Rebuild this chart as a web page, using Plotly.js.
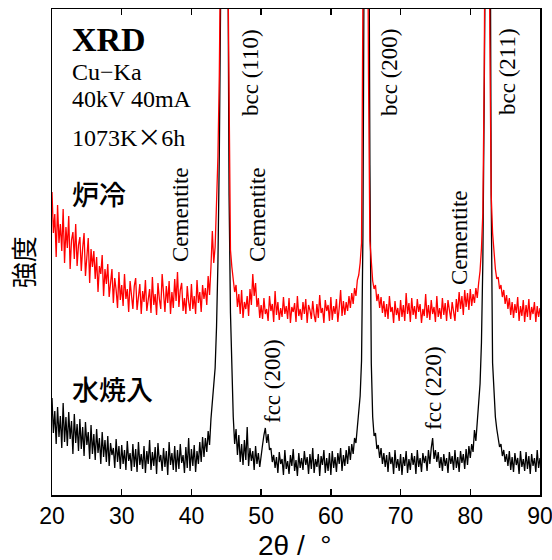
<!DOCTYPE html>
<html>
<head>
<meta charset="utf-8">
<script src="https://cdn.plot.ly/plotly-3.0.1.min.js"></script>
<style>html,body{margin:0;padding:0;background:#fff;}</style>
</head>
<body>
<div id="chart" style="width:552px;height:560px;"></div>
<script>
// 2θ sampling grid: 20.0 .. 90.0 in 0.2° steps (measurement positions)
const thetaStart = 20.0, thetaStep = 0.2, thetaCount = 351;
const twoTheta = Array.from({length: thetaCount}, (_, i) => +(thetaStart + thetaStep * i).toFixed(1));

// 炉冷 (furnace cooled) intensity, arbitrary units
const furnaceCooled = [
  303,262,281,238,290,252,271,244,286,232,
  268,247,279,226,255,263,236,271,229,250,
  258,224,247,262,219,241,257,212,246,228,
  244,216,238,203,229,221,240,199,226,211,
  231,198,214,226,192,217,205,187,223,195,
  210,189,221,196,206,183,214,200,186,209,
  217,185,199,211,181,204,193,215,184,197,
  206,182,218,190,201,180,212,196,186,221,
  199,183,209,192,214,181,203,187,216,194,
  223,188,205,212,184,197,181,209,193,184,
  211,186,199,181,215,192,203,183,210,196,
  207,190,219,200,228,264,232,248,292,338,
  420,560,800,1000,1000,800,560,380,245,228,
  212,203,210,188,201,181,205,177,193,186,
  199,179,206,190,221,199,212,188,197,177,
  190,176,197,181,186,174,199,184,191,173,
  204,180,193,175,187,178,198,181,189,176,
  197,172,188,183,192,173,199,179,186,175,
  193,181,196,172,190,185,176,194,180,173,
  191,177,200,182,187,172,195,184,190,174,
  198,175,189,181,196,173,187,205,179,194,
  180,193,184,199,187,202,191,207,199,215,
  220,232,252,420,800,1000,700,420,254,234,
  214,206,210,194,201,187,198,182,194,178,
  191,176,199,183,188,172,194,180,187,174,
  195,178,190,174,202,181,192,173,197,180,
  189,176,196,183,191,172,186,179,201,177,
  190,175,195,181,188,173,199,178,187,176,
  197,180,192,174,195,185,176,193,181,174,
  196,183,203,186,199,180,205,188,202,185,
  206,189,201,192,207,197,212,224,246,282,
  420,800,1000,800,460,300,262,240,226,216,
  218,206,210,198,205,191,200,186,197,180,
  193,177,191,182,198,174,189,179,195,173,
  190,178,196,175,188,181,193,173,189,178,
  187
];

// 水焼入 (water quenched) intensity, arbitrary units
const waterQuenched = [
  97,62,84,51,88,58,79,47,92,53,
  78,49,83,56,74,41,81,52,71,44,
  76,46,68,39,73,50,63,36,70,41,
  61,35,66,42,57,31,63,38,55,33,
  59,29,52,40,47,27,56,33,49,26,
  50,31,45,25,54,34,42,24,51,28,
  46,23,53,30,41,26,49,22,44,31,
  55,25,43,29,48,21,52,33,40,24,
  47,28,44,20,53,30,42,25,49,23,
  45,26,51,32,40,22,48,27,57,24,
  46,29,50,23,44,31,53,33,58,38,
  57,43,64,50,76,92,106,127,168,232,
  340,600,1000,1000,1000,900,600,300,182,112,
  78,51,66,40,60,33,51,30,55,35,
  68,29,47,34,44,25,49,31,42,28,
  43,50,60,67,52,61,45,47,33,40,
  27,38,22,43,31,36,20,45,26,34,
  21,40,29,46,24,35,19,42,27,37,
  25,44,30,38,21,41,26,47,22,36,
  28,41,19,39,30,45,22,37,24,42,
  20,44,27,38,23,42,31,47,24,40,
  29,45,31,49,35,51,41,57,52,67,
  79,99,134,260,600,1000,1000,700,330,132,
  78,59,62,46,50,37,47,31,42,28,
  40,23,43,31,38,21,45,27,36,24,
  41,20,38,29,44,22,36,25,42,30,
  39,21,45,28,37,23,42,32,39,24,
  45,31,47,57,36,45,33,43,27,38,
  24,41,29,37,22,43,31,39,25,45,
  27,38,23,44,32,41,26,46,30,49,
  37,51,43,65,54,71,89,111,152,232,
  400,800,1000,1000,700,300,132,96,78,66,
  57,48,51,39,45,33,41,29,44,25,
  38,23,42,30,37,21,44,28,36,24,
  43,26,39,21,41,29,37,23,45,27,
  37
];

const xTicks = [20, 30, 40, 50, 60, 70, 80, 90];
const peakLabels = ["bcc (110)", "bcc (200)", "bcc (211)"];
const peakLabelPos = [48.40, 68.34, 85.27];
const cementiteLabelPos = [38.36, 49.41, 78.38];
const cementiteLabelY = [280, 280, 258];
const fccLabels = ["fcc (200)", "fcc (220)"];
const fccLabelPos = [51.56, 74.65];
const fccLabelY = [114, 107];

const serif = "'Liberation Serif', 'Times New Roman', serif";
const sans = "'Liberation Sans', Arial, sans-serif";
const cjk = "'Noto Sans CJK JP', 'Noto Sans CJK SC', sans-serif";

const traces = [
  {x: twoTheta, y: waterQuenched, type: 'scatter', mode: 'lines',
   line: {color: '#000000', width: 1.3}, name: '水焼入', hoverinfo: 'skip'},
  {x: twoTheta, y: furnaceCooled, type: 'scatter', mode: 'lines',
   line: {color: '#ff0000', width: 1.3}, name: '炉冷', hoverinfo: 'skip'}
];

const annotations = [];
const txt = (o) => Object.assign({showarrow: false, xref: 'x', yref: 'y'}, o);

annotations.push(txt({x: 22.58, y: 456, xanchor: 'left', yanchor: 'middle',
  text: '<b>XRD</b>', font: {family: serif, size: 34, color: '#000'}}));
annotations.push(txt({x: 22.58, y: 423, xanchor: 'left', yanchor: 'middle',
  text: 'Cu−Ka', font: {family: serif, size: 24, color: '#000'}}));
annotations.push(txt({x: 22.58, y: 396, xanchor: 'left', yanchor: 'middle',
  text: '40kV 40mA', font: {family: serif, size: 24, color: '#000'}}));
annotations.push(txt({x: 22.58, y: 360, xanchor: 'left', yanchor: 'middle',
  text: "1073K<span style=\"font-family:'Noto Sans CJK JP'\">×</span>6h", font: {family: serif, size: 24, color: '#000'}}));
annotations.push(txt({x: 22.58, y: 302, xanchor: 'left', yanchor: 'middle',
  text: '炉冷', font: {family: cjk, size: 27, color: '#000', weight: 500}}));
annotations.push(txt({x: 22.58, y: 107, xanchor: 'left', yanchor: 'middle',
  text: '水焼入', font: {family: cjk, size: 27, color: '#000', weight: 500}}));

peakLabels.forEach((t, i) => annotations.push(txt({x: peakLabelPos[i], y: 423, textangle: -90,
  xanchor: 'center', yanchor: 'middle', text: t, font: {family: serif, size: 23, color: '#000'}})));
cementiteLabelPos.forEach((xp, i) => annotations.push(txt({x: xp, y: cementiteLabelY[i], textangle: -90,
  xanchor: 'center', yanchor: 'middle', text: 'Cementite', font: {family: serif, size: 23, color: '#000'}})));
fccLabels.forEach((t, i) => annotations.push(txt({x: fccLabelPos[i], y: fccLabelY[i], textangle: -90,
  xanchor: 'center', yanchor: 'middle', text: t, font: {family: serif, size: 23, color: '#000'}})));

annotations.push({xref: 'paper', yref: 'paper', x: -0.0615, y: 0.479, showarrow: false, textangle: -90,
  xanchor: 'center', yanchor: 'middle', text: '強度', font: {family: cjk, size: 26, color: '#000'}});
annotations.push({xref: 'paper', yref: 'paper', x: 0.497, y: -0.103, showarrow: false,
  xanchor: 'center', yanchor: 'middle', text: '2θ /\u00a0\u00a0°', font: {family: sans, size: 28, color: '#000'}});

const layout = {
  width: 552, height: 560,
  margin: {l: 52, r: 12, t: 9, b: 65, pad: 0},
  paper_bgcolor: '#ffffff', plot_bgcolor: '#ffffff',
  showlegend: false,
  xaxis: {range: [20, 90], tickvals: xTicks, ticktext: xTicks.map(String),
    ticks: 'inside', ticklen: 6, tickwidth: 1.5, tickcolor: '#000',
    showline: true, linewidth: 1.5, linecolor: '#000', mirror: 'ticks',
    showgrid: false, zeroline: false, ticklabeloverflow: 'allow',
    tickfont: {family: sans, size: 23, color: '#000'}},
  yaxis: {range: [0, 486], showticklabels: false, ticks: '',
    showline: true, linewidth: 1.5, linecolor: '#000', mirror: true,
    showgrid: false, zeroline: false},
  annotations: annotations
};

Plotly.newPlot('chart', traces, layout, {staticPlot: true, displayModeBar: false});
</script>
</body>
</html>
